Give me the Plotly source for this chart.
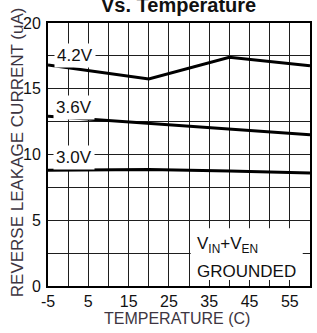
import plotly.graph_objects as go

# Data
temps = [-5, 20, 40, 60]
i_42 = [16.8, 15.75, 17.4, 16.75]
i_36 = [12.9, 12.35, 11.9, 11.5]
i_30 = [8.8, 8.85, 8.75, 8.6]
series_names = ["4.2V", "3.6V", "3.0V"]
label_pos = [(1.6, 17.5), (1.4, 13.6), (1.5, 9.8)]
x_ticks = [-5, 5, 15, 25, 35, 45, 55]
y_ticks = [0, 5, 10, 15, 20]

W, H = 317, 333
L, R, T, B = 48, 5, 23, 47
pw, ph = W - L - R, H - T - B

def px_x(p):
    return (p - L) / pw

def px_y(p):
    return (H - B - p) / ph

FONT = "Liberation Sans, Arial, sans-serif"
GRID = "#1e1e1e"
TITLE_C = "#3d3541"

fig = go.Figure()
for ys, name in zip([i_42, i_36, i_30], series_names):
    fig.add_trace(go.Scatter(x=temps, y=ys, mode="lines", name=name,
                             line=dict(color="black", width=3), showlegend=False,
                             hoverinfo="skip"))

# white box for note
fig.add_shape(type="rect", xref="x", yref="y", x0=30.4, x1=58.2, y0=0.45, y1=4.4,
              fillcolor="white", line=dict(width=0), layer="above")

for name, (lx, ly) in zip(series_names, label_pos):
    fig.add_annotation(x=lx, y=ly, xref="x", yref="y", text=name, showarrow=False,
                       font=dict(family=FONT, size=17, color="#111"),
                       bgcolor="white", borderpad=2, xanchor="center", yanchor="middle")

fig.add_annotation(x=px_x(196), y=px_y(245), xref="paper", yref="paper",
                   text="V<sub>IN</sub>+V<sub>EN</sub>", showarrow=False,
                   font=dict(family=FONT, size=17, color="#111"),
                   xanchor="left", yanchor="middle")
fig.add_annotation(x=px_x(196), y=px_y(271), xref="paper", yref="paper",
                   text="GROUNDED", showarrow=False,
                   font=dict(family=FONT, size=17, color="#111"),
                   xanchor="left", yanchor="middle")

# titles
fig.add_annotation(x=px_x(179), y=px_y(18), xref="paper", yref="paper",
                   text="<b>Vs. Temperature</b>", showarrow=False,
                   font=dict(family=FONT, size=20, color="#111"),
                   xanchor="center", yanchor="bottom")
fig.add_annotation(x=px_x(17), y=px_y(152), xref="paper", yref="paper",
                   text="REVERSE LEAKAGE CURRENT (uA)", showarrow=False, textangle=-90,
                   font=dict(family=FONT, size=17, color=TITLE_C),
                   xanchor="center", yanchor="middle")
fig.add_annotation(x=px_x(177.5), y=px_y(318), xref="paper", yref="paper",
                   text="TEMPERATURE (C)", showarrow=False,
                   font=dict(family=FONT, size=16, color=TITLE_C),
                   xanchor="center", yanchor="middle")

fig.update_layout(
    width=W, height=H, margin=dict(l=L, r=R, t=T, b=B),
    plot_bgcolor="white", paper_bgcolor="white",
    font=dict(family=FONT, size=16, color="#111"),
)
fig.update_xaxes(range=[-5, 60], tickvals=x_ticks, ticktext=[str(v) for v in x_ticks],
                 showgrid=True, gridcolor=GRID, gridwidth=1, zeroline=False,
                 showline=True, linecolor="black", linewidth=2, mirror=True,
                 ticks="", ticklabelstandoff=0,
                 tickfont=dict(family=FONT, size=16, color="#111"),
                 minor=dict(tick0=0, dtick=5, showgrid=True, gridcolor=GRID, gridwidth=1))
fig.update_yaxes(range=[0, 20], tickvals=y_ticks, ticktext=[str(v) for v in y_ticks],
                 showgrid=True, gridcolor=GRID, gridwidth=1, zeroline=False,
                 showline=True, linecolor="black", linewidth=2, mirror=True,
                 ticks="", ticklabelstandoff=2,
                 tickfont=dict(family=FONT, size=16, color="#111"),
                 minor=dict(tick0=0, dtick=2.5, showgrid=True, gridcolor=GRID, gridwidth=1))

fig.write_html("out.html", config={"displayModeBar": False},
               post_script="document.body.style.margin='0';document.body.style.overflow='hidden';")
